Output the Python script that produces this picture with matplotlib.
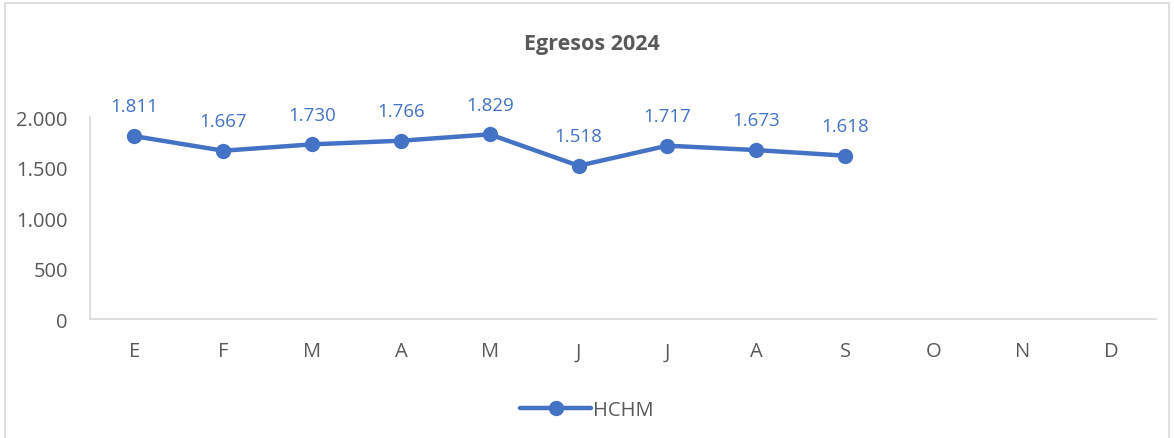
import matplotlib
matplotlib.use('Agg')
import matplotlib.pyplot as plt
from matplotlib.patches import Rectangle

# data
meses = ["E", "F", "M", "A", "M", "J", "J", "A", "S", "O", "N", "D"]
egresos = [1811, 1667, 1730, 1766, 1829, 1518, 1717, 1673, 1618]
yticks = [0, 500, 1000, 1500, 2000]

AZUL = '#4472C4'
GRIS = '#595959'
plt.rcParams['font.family'] = ['Open Sans', 'DejaVu Sans']

fig = plt.figure(figsize=(11.74, 4.39), dpi=100)
ax = fig.add_axes([0.0767, 0.271, 0.908, 0.46])

x = list(range(len(egresos)))
ax.plot(x, egresos, color=AZUL, lw=3.2, marker='o', ms=10, label='HCHM',
        solid_capstyle='round')
for xi, v in zip(x, egresos):
    ax.annotate(f"{v/1000:.3f}", (xi, v), xytext=(0, 15), textcoords='offset points',
                ha='center', va='bottom', color=AZUL, fontsize=13.5)

ax.set_xlim(-0.5, len(meses) - 0.5)
ax.set_ylim(0, 2000)
ax.set_xticks(range(len(meses)))
ax.set_xticklabels(meses)
ax.set_yticks(yticks)
ax.set_yticklabels([f"{t:,}".replace(',', '.') for t in yticks])
ax.tick_params(length=0, labelsize=14.5, colors=GRIS, pad=16)
ax.tick_params(axis='x', pad=16)
for s in ['top', 'right']:
    ax.spines[s].set_visible(False)
for s in ['left', 'bottom']:
    ax.spines[s].set_color('#D9D9D9')
    ax.spines[s].set_linewidth(1.2)

fig.text(0.504, 0.898, "Egresos 2024", ha='center', va='center', fontsize=15.5,
         fontweight='bold', color=GRIS)
fig.legend(loc='center', bbox_to_anchor=(0.5, 0.063), frameon=False, fontsize=14.5,
           labelcolor=GRIS, handlelength=3.5, handletextpad=0.1)

# chart border
fig.patches.append(Rectangle((0.004, -0.01), 0.992, 1.0, transform=fig.transFigure,
                             fill=False, edgecolor='#D9D9D9', lw=1.2))

fig.savefig('out.png', dpi=100)
